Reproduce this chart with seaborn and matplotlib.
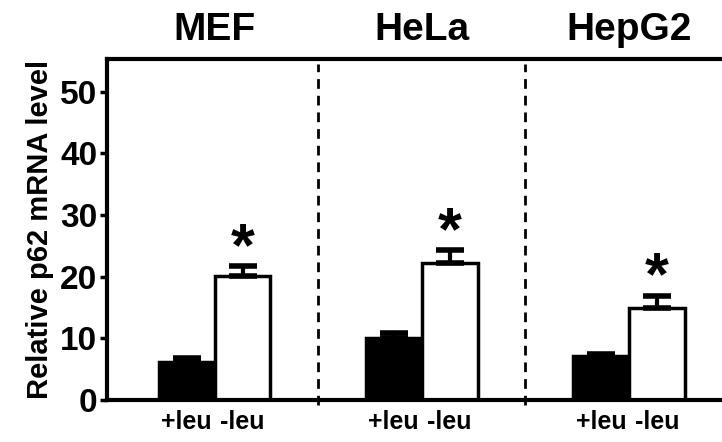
import numpy as np
import pandas as pd
import matplotlib
matplotlib.use("Agg")
import matplotlib.pyplot as plt
import seaborn as sns

# data
cells = ["MEF", "HeLa", "HepG2"]
conditions = ["+leu", "-leu"]
plus_leu = [6.2, 10.0, 7.1]
minus_leu = [20.1, 22.2, 14.9]
plus_err = [0.6, 0.9, 0.4]
minus_err = [1.6, 2.1, 2.0]
star_gap = 2.7
yticks = [0, 10, 20, 30, 40, 50]

df = pd.DataFrame({
    "cell": cells * 2,
    "cond": [conditions[0]] * 3 + [conditions[1]] * 3,
    "value": plus_leu + minus_leu,
    "err": plus_err + minus_err,
})

sns.set_style("ticks")
plt.rcParams["font.family"] = ["Liberation Sans", "DejaVu Sans"]
plt.rcParams["font.weight"] = "bold"
for k in ["text.color", "axes.labelcolor", "xtick.color", "ytick.color"]:
    plt.rcParams[k] = "black"

fig = plt.figure(figsize=(7.22, 4.42), dpi=100)
ax = fig.add_axes([0.148, 0.095, 0.852, 0.7715])

sns.barplot(data=df, x="cell", y="value", hue="cond", order=cells,
            hue_order=conditions, palette=["black", "white"], width=0.54,
            edgecolor="black", linewidth=2.5, errorbar=None, legend=False, ax=ax)

# upward-only error bars + asterisks
for bars, vals, errs in zip(ax.containers, [plus_leu, minus_leu], [plus_err, minus_err]):
    xs = [b.get_x() + b.get_width() / 2 for b in bars]
    ax.errorbar(xs, vals, yerr=[np.zeros(len(vals)), errs], fmt="none",
                ecolor="black", elinewidth=3, capsize=10, capthick=4, zorder=3)
    if bars is ax.containers[1]:
        for x, v, e in zip(xs, vals, errs):
            ax.text(x, v + e + star_gap, "*", ha="center", va="center",
                    fontsize=44, fontweight="bold")

# dashed separators between cell lines
for xd in [0.5, 1.5]:
    ax.axvline(xd, ymin=-0.015, ymax=0.985, color="black", lw=2,
               ls=(0, (3.5, 2.5)), clip_on=False)

# cell line names above the axes
for i, c in enumerate(cells):
    ax.text(i, 1.085, c, transform=ax.get_xaxis_transform(), ha="center",
            va="center", fontsize=28, fontweight="bold")

ax.set_xlim(-0.52, 2.45)
ax.set_ylim(0, 55.3)
ax.set_yticks(yticks)
ax.set_xticks([])
ax.set_xlabel("")
ax.set_ylabel("Relative p62 mRNA level", fontsize=21, fontweight="bold", labelpad=4)
ax.tick_params(axis="y", labelsize=24, width=2.5, length=5, pad=2)

# condition labels under each bar
for bars, cond in zip(ax.containers, conditions):
    for b in bars:
        ax.text(b.get_x() + b.get_width() / 2, -0.065, cond,
                transform=ax.get_xaxis_transform(), ha="center", va="center",
                fontsize=18, fontweight="bold")

for s in ["left", "top", "bottom"]:
    ax.spines[s].set_linewidth(3)
    ax.spines[s].set_color("black")
ax.spines["right"].set_visible(False)

fig.savefig("out.png", dpi=100)
